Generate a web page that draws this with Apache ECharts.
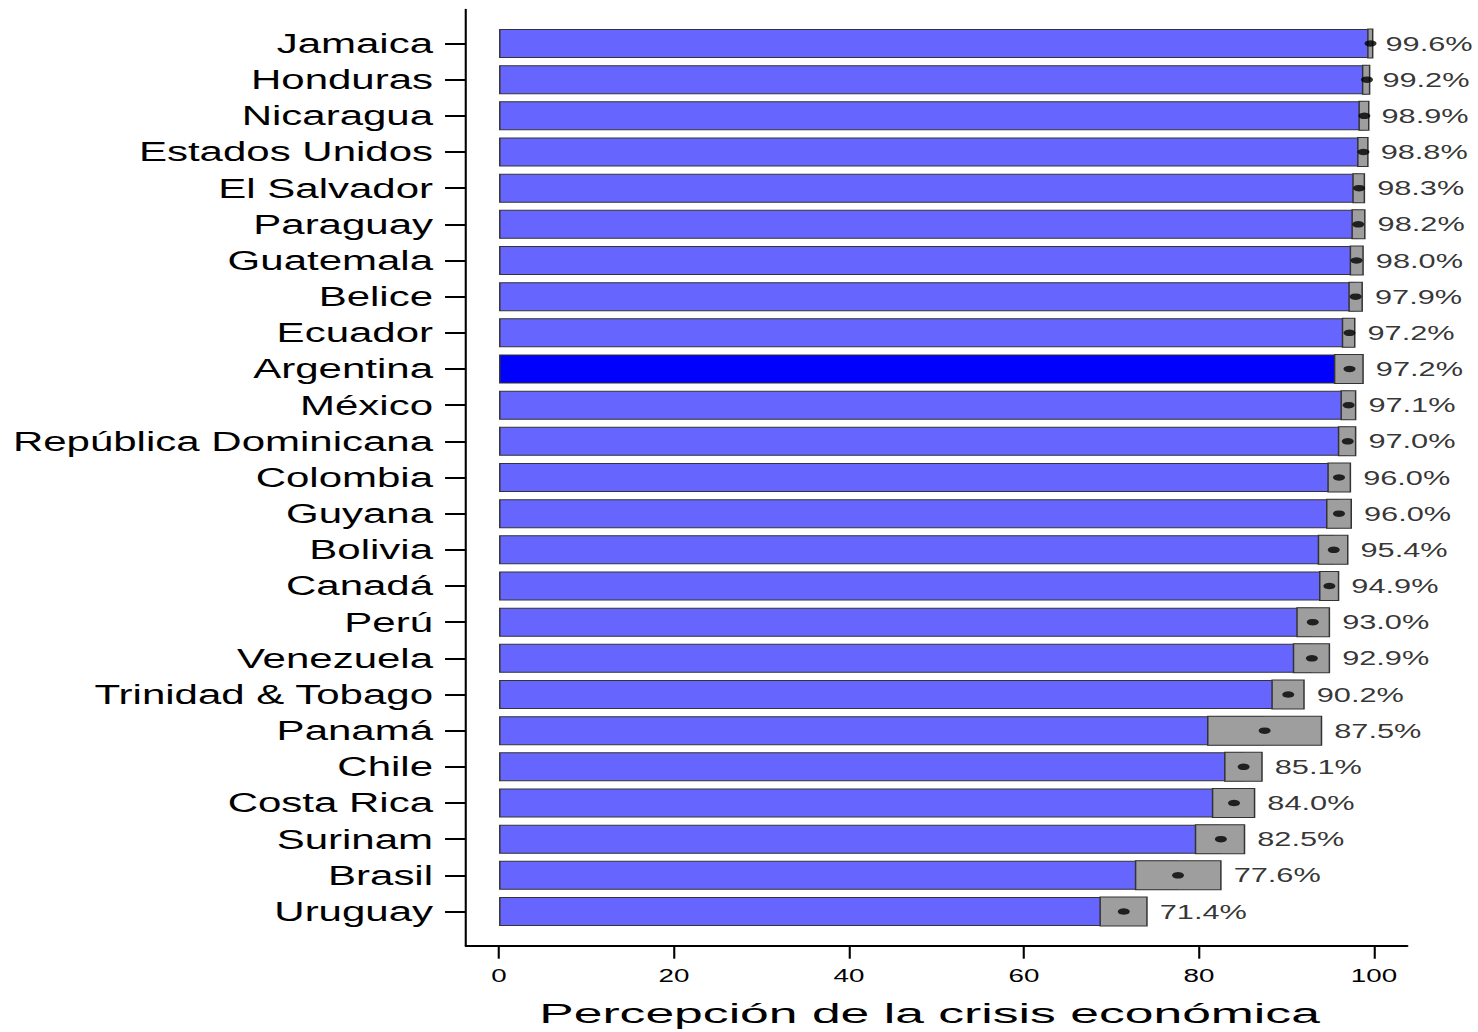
<!DOCTYPE html>
<html>
<head>
<meta charset="utf-8">
<script src="https://cdn.jsdelivr.net/npm/echarts@6/dist/echarts.min.js"></script>
<style>
html,body{margin:0;padding:0;background:#fff;overflow:hidden;}
#chart{width:985.33px;height:1032px;transform:scaleX(1.5);transform-origin:0 0;}
</style>
</head>
<body>
<div id="chart"></div>
<script>
const countries = ['Jamaica','Honduras','Nicaragua','Estados Unidos','El Salvador','Paraguay','Guatemala','Belice','Ecuador','Argentina','México','República Dominicana','Colombia','Guyana','Bolivia','Canadá','Perú','Venezuela','Trinidad & Tobago','Panamá','Chile','Costa Rica','Surinam','Brasil','Uruguay'];
const values = [99.6,99.2,98.9,98.8,98.3,98.2,98.0,97.9,97.2,97.2,97.1,97.0,96.0,96.0,95.4,94.9,93.0,92.9,90.2,87.5,85.1,84.0,82.5,77.6,71.4];
const ciLow = [99.3,98.7,98.3,98.15,97.6,97.5,97.3,97.15,96.4,95.5,96.25,95.95,94.75,94.6,93.65,93.8,91.2,90.8,88.35,81.0,82.95,81.55,79.6,72.75,68.7];
const ciHigh = [99.85,99.5,99.4,99.3,98.9,98.95,98.75,98.65,97.8,98.75,97.9,97.9,97.3,97.4,97.0,95.95,94.9,94.9,92.0,94.0,87.2,86.35,85.2,82.5,74.05];
const highlight = 'Argentina';
const xMin = 0, xMax = 100, xStep = 20;
const axisTitle = 'Percepción de la crisis económica';

const FONT = "'Liberation Sans', Arial, Helvetica, sans-serif";
const chart = echarts.init(document.getElementById('chart'), null, {renderer: 'svg'});

const hiddenAxis = {axisLine: {show: false}, axisTick: {show: false}, axisLabel: {show: false}, splitLine: {show: false}};

const option = {
  animation: false,
  backgroundColor: '#ffffff',
  grid: [
    // 0: data area
    {left: 332.7, top: 25.4, width: 583.3, height: 904.2},
    // 1: axis frame lines (L-shape)
    {left: 310.7, top: 9.5, width: 627.3, height: 936.2},
    // 2: x ticks and labels at the frame's bottom line
    {left: 332.7, top: 25.4, width: 583.3, height: 920.3},
    // 3: y ticks and labels at the frame's left line
    {left: 310.7, top: 25.4, width: 605.3, height: 904.2}
  ],
  xAxis: [
    Object.assign({type: 'value', gridIndex: 0, min: xMin, max: xMax, interval: xStep}, hiddenAxis),
    {
      type: 'value', gridIndex: 1, min: 0, max: 1,
      axisLine: {show: true, lineStyle: {color: '#000', width: 2}},
      axisTick: {show: false}, axisLabel: {show: false}, splitLine: {show: false}
    },
    {
      type: 'value', gridIndex: 2, min: xMin, max: xMax, interval: xStep,
      axisLine: {show: false},
      axisTick: {show: true, length: 13, lineStyle: {color: '#000', width: 1.4}},
      axisLabel: {fontSize: 18.5, color: '#000', fontFamily: FONT, margin: 21},
      splitLine: {show: false}
    },
    Object.assign({type: 'value', gridIndex: 3, min: 0, max: 1}, hiddenAxis)
  ],
  yAxis: [
    Object.assign({type: 'category', gridIndex: 0, data: countries, inverse: true}, hiddenAxis),
    {
      type: 'value', gridIndex: 1, min: 0, max: 1,
      axisLine: {show: true, lineStyle: {color: '#000', width: 1.4}},
      axisTick: {show: false}, axisLabel: {show: false}, splitLine: {show: false}
    },
    Object.assign({type: 'value', gridIndex: 2, min: 0, max: 1}, hiddenAxis),
    {
      type: 'category', gridIndex: 3, data: countries, inverse: true,
      axisLine: {show: false},
      axisTick: {show: true, alignWithLabel: true, interval: 0, length: 14, lineStyle: {color: '#000', width: 2}},
      axisLabel: {interval: 0, fontSize: 28, color: '#000', fontFamily: FONT, margin: 22},
      splitLine: {show: false}
    }
  ],
  series: [
    {
      type: 'bar', xAxisIndex: 0, yAxisIndex: 0,
      barWidth: 29,
      data: values.map((v, i) => ({
        value: v,
        itemStyle: {color: countries[i] === highlight ? '#0000FF' : '#6666FF'}
      })),
      itemStyle: {borderColor: '#333', borderWidth: 1},
      emphasis: {disabled: true},
      z: 2
    },
    {
      type: 'custom', xAxisIndex: 0, yAxisIndex: 0,
      data: countries.map((c, i) => [i, ciLow[i], ciHigh[i]]),
      encode: {y: 0, x: [1, 2]},
      renderItem: function (params, api) {
        const p0 = api.coord([api.value(1), api.value(0)]);
        const p1 = api.coord([api.value(2), api.value(0)]);
        const h = 29;
        return {
          type: 'rect',
          shape: {x: p0[0], y: p0[1] - h / 2, width: p1[0] - p0[0], height: h},
          style: {fill: '#9E9E9E', stroke: '#333', lineWidth: 1}
        };
      },
      z: 3
    },
    {
      type: 'scatter', xAxisIndex: 0, yAxisIndex: 0,
      data: values.map((v, i) => [v, i]),
      symbol: 'circle',
      symbolSize: [8, 6.5],
      itemStyle: {color: '#000'},
      emphasis: {disabled: true},
      z: 4
    },
    {
      type: 'scatter', xAxisIndex: 0, yAxisIndex: 0,
      data: ciHigh.map((u, i) => [u, i, values[i]]),
      symbolSize: 1,
      itemStyle: {color: 'rgba(0,0,0,0)'},
      label: {
        show: true, position: 'right', distance: 8,
        formatter: p => p.value[2].toFixed(1) + '%',
        fontSize: 20.5, color: '#000', fontFamily: FONT
      },
      emphasis: {disabled: true},
      z: 5
    }
  ],
  graphic: [
    {
      type: 'text',
      x: 619.7, y: 1013,
      scaleX: 1.23,
      style: {
        text: axisTitle,
        fontSize: 28, fontFamily: FONT, fill: '#000',
        textAlign: 'center', textVerticalAlign: 'middle'
      }
    }
  ]
};
chart.setOption(option);
</script>
</body>
</html>
